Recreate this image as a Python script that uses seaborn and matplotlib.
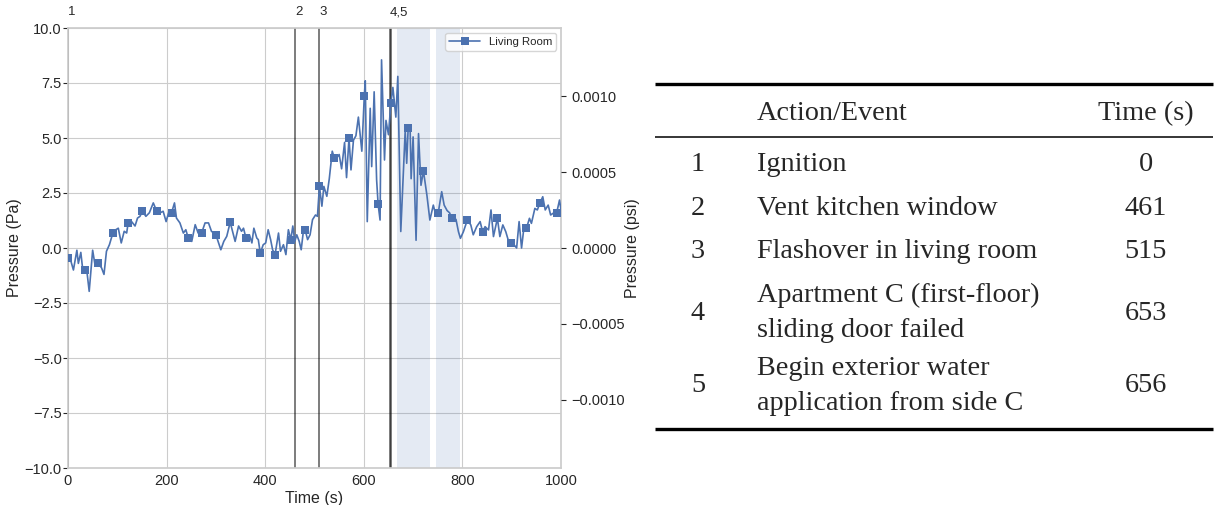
import numpy as np
import matplotlib
matplotlib.use('Agg')
import matplotlib.pyplot as plt
from matplotlib.lines import Line2D
import seaborn as sns

# Pressao na sala (Pa)
tempo_s = [0, 4, 11, 18, 21, 26, 30, 34, 38, 43, 50, 55, 61, 68, 73, 78, 84, 91, 97, 102,
           108, 114, 119, 122, 129, 136, 141, 146, 151, 158, 165, 173, 180, 187, 193, 199, 204,
           210, 216, 220, 227, 234, 239, 244, 251, 258, 264, 271, 278, 285, 291, 300, 310, 316,
           322, 329, 339, 346, 352, 356, 361, 368, 373, 377, 383, 386, 390, 396, 401,
           406, 411, 415, 420, 427, 431, 437, 442, 447, 452, 456, 460, 464, 469, 473, 477, 481,
           486, 491, 496, 502, 506, 510, 515, 519, 525, 530, 536, 540, 545, 550, 555, 561, 565,
           570, 574, 579, 584, 589, 596, 601, 603, 607, 613, 616, 621, 626, 629, 633, 636, 642,
           645, 650, 655, 659, 662, 665, 669, 675, 684, 687, 690, 694, 696, 700, 706, 711, 716,
           721, 728, 734, 741, 746, 751, 758, 763, 769, 774, 778, 787, 792, 796, 802, 810, 817,
           822, 829, 836, 841, 846, 853, 858, 863, 871, 876, 882, 888, 893, 899, 905, 910, 915,
           920, 925, 930, 936, 940, 947, 952, 957, 963, 968, 974, 979, 984, 991, 997, 1000]
pressao_pa = [-0.45, -0.45, -1.0, -0.1, -0.7, -0.2, -1.0, -1.0, -1.0, -1.97, -0.1, -0.8, -0.7,
              -0.9, -1.2, -0.15, 0.15, 0.68, 0.83, 0.9, 0.23, 0.76, 0.68, 1.14, 1.2, 1.0, 1.36,
              1.44, 1.67, 1.44, 1.6, 2.05, 1.67, 1.6, 1.67, 1.2, 1.6, 1.6, 2.05, 1.36, 1.14, 0.68,
              0.83, 0.45, 0.3, 1.06, 0.68, 0.68, 1.14, 1.14, 0.76, 0.6, -0.08, 0.3, 0.53, 1.17,
              0.3, 1.0, 0.76, 0.9, 0.45, 0.6, 0.23, 0.9, 0.45, 0.38, -0.23, 0.15,
              0.23, 0.83, 0.38, -0.08, -0.3, 0.68, -0.15, 0.15, -0.3, 0.83, 0.38, 1.0, 0.3, 0.6,
              0.3, -0.08, 0.68, 0.83, 0.38, 0.6, 1.29, 1.5, 1.44, 2.8, 1.9, 2.8, 2.35, 3.15, 4.4,
              4.1, 4.1, 4.25, 3.6, 4.8, 3.2, 5.0, 3.55, 4.9, 5.1, 5.95, 4.4, 6.9, 7.6, 1.2, 6.35,
              3.7, 7.1, 3.1, 2.0, 1.27, 8.55, 4.0, 5.8, 5.15, 6.6, 7.3, 6.6, 5.95, 7.8, 0.75,
              5.35, 3.85, 5.45, 5.35, 3.15, 5.05, 0.35, 5.2, 2.85, 3.5, 2.4, 1.27, 1.95, 1.5, 1.6,
              2.56, 1.95, 1.7, 1.6, 1.37, 1.3, 0.74, 0.44, 0.74, 1.27, 1.05, 0.6, 0.97, 1.2, 0.74,
              0.97, 0.82, 1.73, 0.52, 1.35, 0.52, 1.05, 0.74, 0.36, 0.21, 0.14, 0.0, 1.2, 0.0,
              0.97, 0.9, 1.35, 1.12, 1.8, 1.73, 2.03, 2.33, 1.73, 1.95, 1.5, 1.58, 1.58, 2.18, 1.73]
# instantes onde aparecem os marcadores quadrados
tempos_marcadores = [0, 34, 61, 91, 122, 151, 180, 210, 244, 271, 300, 329, 361, 390, 420,
                     452, 481, 510, 540, 570, 601, 629, 655, 690, 721, 751, 778, 810, 841,
                     871, 899, 930, 957, 991]

# Eventos (linhas verticais) e periodos sombreados
tempos_eventos = [0, 461, 510, 653, 656]
rotulos_eventos = ['1', '2', '3', '4,5']
tempos_rotulos = [0, 461, 510, 653]
sombra_inicio = [667, 746]
sombra_fim = [734, 796]

# Tabela
tab_num = ['1', '2', '3', '4', '5']
tab_acao = ['Ignition', 'Vent kitchen window', 'Flashover in living room',
            'Apartment C (first-floor)\nsliding door failed',
            'Begin exterior water\napplication from side C']
tab_tempo = ['0', '461', '515', '653', '656']

PA_PARA_PSI = 0.000145038
cor = '#4C72B0'

sns.set_style('whitegrid')
plt.rcParams['font.family'] = ['Liberation Sans', 'DejaVu Sans']

fig = plt.figure(figsize=(12.14, 5.05), dpi=100)
ax = fig.add_axes([68 / 1214, 1 - 468 / 505, 493 / 1214, 440 / 505])

for a, b in zip(sombra_inicio, sombra_fim):
    ax.axvspan(a, b, color=cor, alpha=0.15, lw=0, zorder=1)
for t in tempos_eventos:
    ax.axvline(t, color='black', alpha=0.6, lw=1.2, zorder=2)

marcas = [tempo_s.index(t) for t in tempos_marcadores]
sns.lineplot(x=tempo_s, y=pressao_pa, ax=ax, color=cor, lw=1.2, marker='s', ms=6,
             markevery=marcas, mec=cor, mew=0, sort=False, zorder=3)

ax.set_xlim(0, 1000)
ax.set_ylim(-10, 10)
ax.set_yticks(np.arange(-10, 10.1, 2.5))
ax.set_xlabel('Time (s)', fontsize=11.5, labelpad=2)
ax.set_ylabel('Pressure (Pa)', fontsize=11.5, labelpad=2)
ax.tick_params(labelsize=10.5, pad=1)
for s in ax.spines.values():
    s.set_color('#cccccc')
    s.set_linewidth(1.25)

for t, r in zip(tempos_rotulos, rotulos_eventos):
    ax.text(t, 1.022, r, transform=ax.get_xaxis_transform(), ha='left', va='bottom', fontsize=9.5)

h = Line2D([], [], color=cor, lw=1.2, marker='s', ms=6, mew=0)
ax.legend([h], ['Living Room'], loc='upper right', fontsize=8.2, frameon=True,
          borderaxespad=0.4, handlelength=2.7, borderpad=0.35)

ax2 = ax.twinx()
ax2.set_ylim(-10 * PA_PARA_PSI, 10 * PA_PARA_PSI)
ax2.set_yticks([-0.001, -0.0005, 0.0, 0.0005, 0.001])
ax2.set_yticklabels(['\u22120.0010', '\u22120.0005', '0.0000', '0.0005', '0.0010'])
ax2.grid(False)
ax2.set_ylabel('Pressure (psi)', fontsize=11.5, labelpad=0)
ax2.tick_params(labelsize=10.5, pad=4)
for s in ax2.spines.values():
    s.set_visible(False)

# tabela desenhada em coordenadas de pixel
tab = fig.add_axes([655 / 1214, 0, 559 / 1214, 1])
tab.set_xlim(655, 1214)
tab.set_ylim(505, 0)
tab.axis('off')
fs = 20.3
serif = ['Liberation Serif', 'DejaVu Serif']
tab.plot([655, 1213], [84, 84], color='black', lw=2.4, solid_capstyle='butt')
tab.plot([655, 1213], [137, 137], color='black', lw=1.1, solid_capstyle='butt')
tab.plot([655, 1213], [429, 429], color='black', lw=2.4, solid_capstyle='butt')
tab.text(757, 120, 'Action/Event', ha='left', va='baseline', fontsize=fs, family=serif)
tab.text(1146, 120, 'Time (s)', ha='center', va='baseline', fontsize=fs, family=serif)

bases = [171, 215, 258, 302, 375]
gap = 35
for n, a, t, b in zip(tab_num, tab_acao, tab_tempo, bases):
    linhas = a.split('\n')
    for i, l in enumerate(linhas):
        tab.text(757, b + i * gap, l, ha='left', va='baseline', fontsize=fs, family=serif)
    meio = b + (len(linhas) - 1) * gap / 2
    tab.text(698, meio, n, ha='center', va='baseline', fontsize=fs, family=serif)
    tab.text(1146, meio, t, ha='center', va='baseline', fontsize=fs, family=serif)

plt.savefig('out.png', dpi=100)
plt.close()
